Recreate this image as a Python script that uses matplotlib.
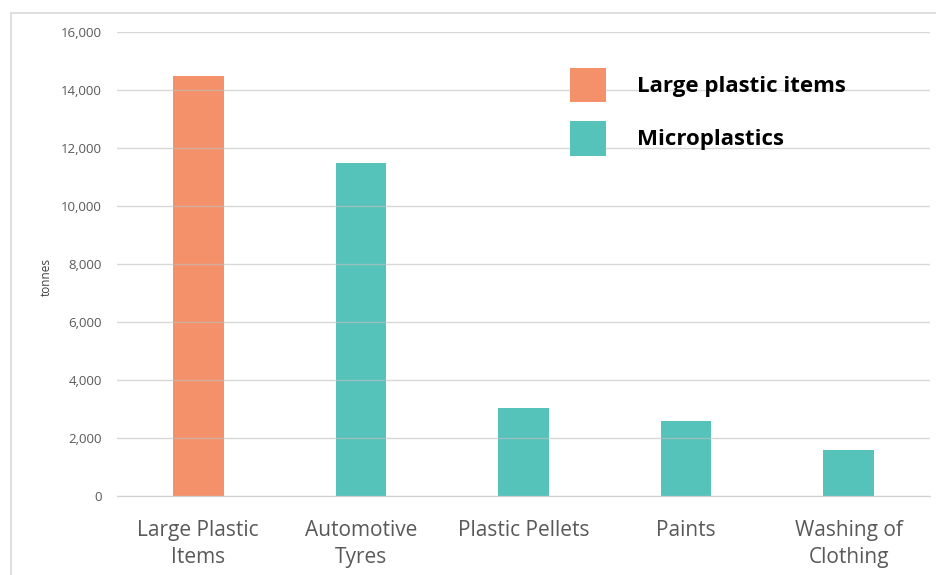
import matplotlib.pyplot as plt
from matplotlib.patches import Patch, Rectangle

categories = ['Large Plastic\nItems', 'Automotive\nTyres', 'Plastic Pellets', 'Paints', 'Washing of\nClothing']
tonnes = [14500, 11500, 3050, 2600, 1600]
groups = ['large', 'micro', 'micro', 'micro', 'micro']
legend_labels = ['Large plastic items', 'Microplastics']

orange = '#F5916A'
teal = '#56C3BB'
colors = [orange if g == 'large' else teal for g in groups]

plt.rcParams['font.family'] = ['Open Sans', 'DejaVu Sans']

fig = plt.figure(figsize=(9.37, 5.75), dpi=100)
ax = fig.add_axes([117 / 937, 79 / 575, 813 / 937, 464 / 575])

x = range(len(categories))
ax.bar(x, tonnes, width=0.31, color=colors, zorder=2)
ax.set_xlim(-0.5, len(categories) - 0.5)
ax.set_ylim(0, 16000)
ax.set_yticks(range(0, 16001, 2000))
ax.yaxis.set_major_formatter(plt.FuncFormatter(lambda v, p: f'{int(v):,}'))
ax.grid(axis='y', color='#BFBFBF', linewidth=1, alpha=0.6, zorder=3)
ax.set_axisbelow(False)
ax.set_xticks(list(x))
ax.set_xticklabels(categories, fontsize=15, color='#595959', linespacing=1.4)
ax.tick_params(axis='y', labelsize=9.5, colors='#595959', length=0, pad=11)
ax.tick_params(axis='x', length=0, pad=17)
for s in ['top', 'right', 'left']:
    ax.spines[s].set_visible(False)
ax.spines['bottom'].set_color('#D0D0D0')
ax.set_ylabel('tonnes', fontsize=8.5, color='#404040')
ax.yaxis.set_label_coords(-0.079, 0.472)

handles = [Patch(facecolor=orange), Patch(facecolor=teal)]
leg = ax.legend(handles, legend_labels, loc='upper left', bbox_to_anchor=(433 / 813, 1 - 16 / 464),
                frameon=False, handlelength=1.6, handleheight=2.0, labelspacing=0.85,
                handletextpad=1.4, borderpad=0.4, prop={'weight': 'bold', 'size': 16})
for t in leg.get_texts():
    t.set_color('black')

# outer frame
fig.patches.append(Rectangle((11 / 937, -0.1), 1.2, (575 - 13) / 575 + 0.1,
                             transform=fig.transFigure, fill=False,
                             edgecolor='#D9D9D9', linewidth=1.2))

fig.savefig('out.png', dpi=100)
